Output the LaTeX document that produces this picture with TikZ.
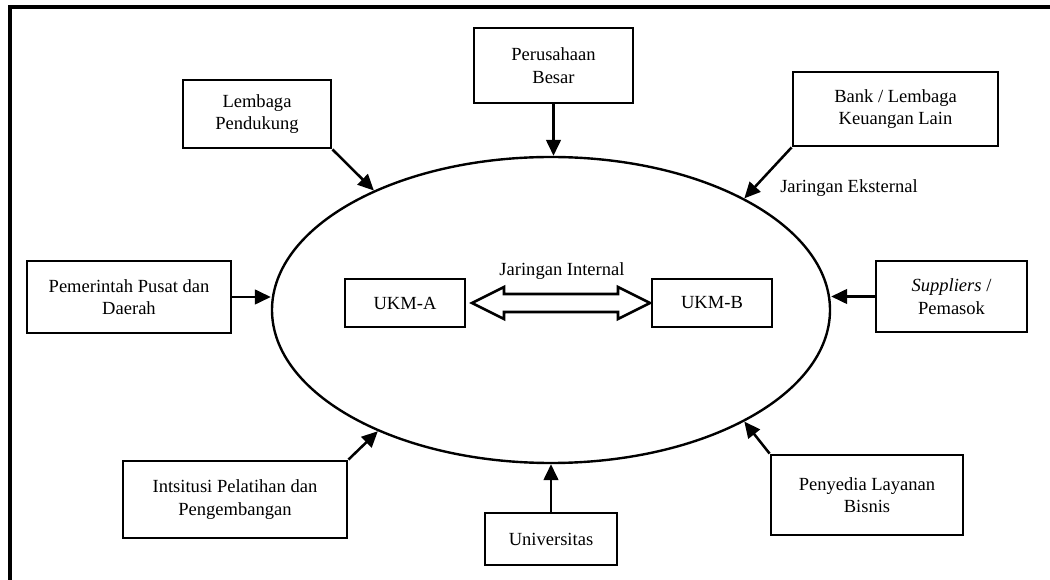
\documentclass[tikz,border=0pt]{standalone}
\usepackage{fontspec}
\setmainfont{Liberation Serif}
\usetikzlibrary{shapes.geometric,arrows.meta}
\begin{document}
\begin{tikzpicture}[x=0.75pt,y=-0.75pt,
  box/.style={draw,line width=2.1pt,align=center,inner sep=0pt,font=\fontsize{13.9}{16.8}\selectfont},
  lbl/.style={font=\fontsize{13.9}{16.8}\selectfont,inner sep=0pt},
  arr/.style={line width=1.9pt,-{Triangle[length=12pt,width=11pt]}},
  dbl/.style={line width=1.9pt,line join=miter}]
\useasboundingbox (0,0) rectangle (1050,580);
\draw[line width=2.4pt] (10,580) -- (10,7) -- (1050,7);
% ellipse
\node[ellipse,draw,line width=1.8pt,minimum width=418.5pt,minimum height=229.5pt,inner sep=0pt] (ell) at (551,310) {};
% boxes
\node[box,minimum width=111pt,minimum height=51pt] (lemb) at (257,114) {Lembaga\\Pendukung};
\node[box,minimum width=119.25pt,minimum height=56.25pt] (perus) at (553.5,65.5) {Perusahaan\\Besar};
\node[box,minimum width=153.75pt,minimum height=55.5pt] (bank) at (895.5,109) {Bank / Lembaga\\Keuangan Lain};
\node[box,minimum width=153pt,minimum height=54pt] (pem) at (129,297) {Pemerintah Pusat dan\\Daerah};
\node[box,minimum width=90pt,minimum height=36pt] (ukma) at (405,303) {UKM-A};
\node[box,minimum width=90pt,minimum height=36pt] (ukmb) at (712,303) {UKM-B};
\node[box,minimum width=113.25pt,minimum height=53.25pt] (supp) at (951.5,296.5) {\textit{Suppliers} /\\Pemasok};
\node[box,minimum width=168pt,minimum height=57.75pt] (ints) at (235,499.5) {Intsitusi Pelatihan dan\\Pengembangan};
\node[box,minimum width=99pt,minimum height=39pt] (univ) at (551,539) {Universitas};
\node[box,minimum width=144pt,minimum height=60pt] (peny) at (867,495) {Penyedia Layanan\\Bisnis};
% labels
\node[lbl,anchor=west] (jeks) at (780,188) {Jaringan Eksternal};
\node[lbl] (jint) at (562,271) {Jaringan Internal};
% arrows
\draw[arr] (lemb.south east) -- (ell.146);
\draw[arr] (perus.south) -- (perus.south |- ell.north);
\draw[arr] (bank.south west) -- (ell.30);
\draw[arr] (pem.east) -- (pem.east -| ell.west);
\draw[arr] (supp.west) -- (supp.west -| ell.east);
\draw[arr] (ints.north east) -- (ell.215);
\draw[arr] (univ.north) -- (univ.north |- ell.south);
\draw[arr] (peny.north west) -- (ell.330);
% double hollow arrow
\coordinate (dl) at (472,303);
\coordinate (dr) at (650,303);
\draw[dbl] (dl) -- ++(32,-16) -- ++(0,7) -- (618,294) -- ++(0,-7) -- (dr) -- (618,319) -- ++(0,-7) -- (504,312) -- ++(0,7) -- cycle;
\end{tikzpicture}
\end{document}
